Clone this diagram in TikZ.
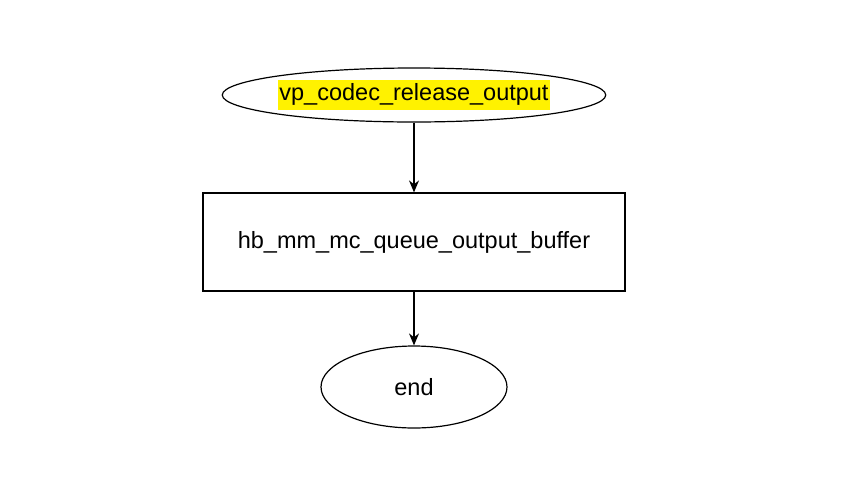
\documentclass[tikz,border=0pt]{standalone}
\usepackage{fontspec}
\setmainfont{Liberation Sans}
\usetikzlibrary{shapes.geometric,arrows.meta,positioning}
\begin{document}
\begin{tikzpicture}[x=1pt,y=1pt,yscale=-1,
  box/.style={draw,line width=1.2pt,inner sep=0pt,font=\fontsize{23.5}{28}\selectfont},
  flow/.style={-{Stealth[length=12pt,width=10pt]},line width=1.2pt}]
\useasboundingbox (0,0) rectangle (845,496);
% start
\node[box,ellipse,minimum width=343,minimum height=54] (start) at (414,95)
  {\setlength{\fboxsep}{1pt}\colorbox{yellow}{\strut vp\_codec\_release\_output}};
% queue
\node[box,rectangle,minimum width=422,minimum height=98] (queue) at (414,242)
  {hb\_mm\_mc\_queue\_output\_buffer};
% end
\node[box,ellipse,minimum width=186,minimum height=82] (stop) at (414,387) {end};
\draw[flow] (start) -- (queue);
\draw[flow] (queue) -- (stop);
\end{tikzpicture}
\end{document}
